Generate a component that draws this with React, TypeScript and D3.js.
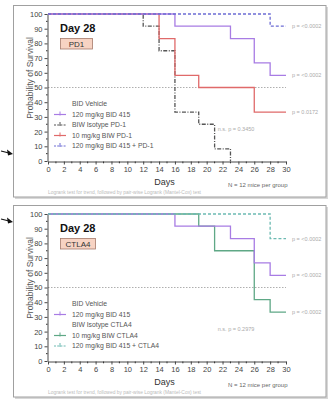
import { useRef, useEffect } from "react";
import * as d3 from "d3";

const FONT = "Liberation Sans, Arial, sans-serif";

const xTickValues = [0, 2, 4, 6, 8, 10, 12, 14, 16, 18, 20, 22, 24, 26, 28, 30];
const xMinorTicks = [1, 3, 5, 7, 9, 11, 13, 15, 17, 19, 21, 23, 25, 27, 29];
const yTickValues = [0, 10, 20, 30, 40, 50, 60, 70, 80, 90, 100];
const yMinorTicks = [5, 15, 25, 35, 45, 55, 65, 75, 85, 95];

// PD1 panel
const pd1Legend = ["BID Vehicle", "120 mg/kg BID 415", "BIW Isotype PD-1", "10 mg/kg BIW PD-1", "120 mg/kg BID 415 + PD-1"];
const bid415Days = [0, 16, 23, 26, 28, 30];
const bid415Surv = [100, 91.7, 83.3, 66.7, 58.3, 58.3];
const isoPd1Days = [0, 12, 14, 16, 19, 21, 23];
const isoPd1Surv = [100, 91.7, 75, 33.3, 25, 8.3, 0];
const pd1Days = [0, 14, 16, 19, 26, 30];
const pd1Surv = [100, 83.3, 58.3, 50, 33.3, 33.3];
const comboPd1Days = [0, 28, 30];
const comboPd1Surv = [100, 91.7, 91.7];
const pd1PValues = ["p = <0.0002", "p = <0.0002", "p = 0.0172"];
const pd1NotSig = "n.s. p = 0.3450";

// CTLA4 panel
const ctla4Legend = ["BID Vehicle", "120 mg/kg BID 415", "BIW Isotype CTLA4", "10 mg/kg BIW CTLA4", "120 mg/kg BID 415 + CTLA4"];
const bid415bDays = [0, 16, 23, 26, 28, 30];
const bid415bSurv = [100, 91.7, 83.3, 66.7, 58.3, 58.3];
const ctla4Days = [0, 19, 21, 26, 28, 30];
const ctla4Surv = [100, 91.7, 75, 41.7, 33.3, 33.3];
const comboCtla4Days = [0, 28, 30];
const comboCtla4Surv = [100, 83.3, 83.3];
const ctla4PValues = ["p = <0.0002", "p = <0.0002", "p = <0.0002"];
const ctla4NotSig = "n.s. p = 0.2979";

const footnote = "Logrank test for trend, followed by pair-wise Logrank (Mantel-Cox) test";
const nLabel = "N = 12 mice per group";

const C = {
  purple: "#a87ce4",
  red: "#e06a6a",
  iso: "#555555",
  blue: "#6c6cd4",
  green: "#5fa886",
  teal: "#6cbab2",
};

interface Series {
  days: number[];
  surv: number[];
  color: string;
  dash: string | null;
  legend: number;
  p?: string;
}

interface PanelCfg {
  tag: string;
  tagWidth: number;
  arrowY: number;
  legend: string[];
  series: Series[];
  notSig: string;
}

const panels: PanelCfg[] = [
  {
    tag: "PD1",
    tagWidth: 32,
    arrowY: 152,
    legend: pd1Legend,
    notSig: pd1NotSig,
    series: [
      { days: isoPd1Days, surv: isoPd1Surv, color: C.iso, dash: "4,1.5,1,1.5", legend: 2 },
      { days: pd1Days, surv: pd1Surv, color: C.red, dash: null, legend: 3, p: pd1PValues[2] },
      { days: bid415Days, surv: bid415Surv, color: C.purple, dash: null, legend: 1, p: pd1PValues[1] },
      { days: comboPd1Days, surv: comboPd1Surv, color: C.blue, dash: "3,2", legend: 4, p: pd1PValues[0] },
    ],
  },
  {
    tag: "CTLA4",
    tagWidth: 35,
    arrowY: 20,
    legend: ctla4Legend,
    notSig: ctla4NotSig,
    series: [
      { days: ctla4Days, surv: ctla4Surv, color: C.green, dash: null, legend: 3, p: ctla4PValues[2] },
      { days: bid415bDays, surv: bid415bSurv, color: C.purple, dash: null, legend: 1, p: ctla4PValues[1] },
      { days: comboCtla4Days, surv: comboCtla4Surv, color: C.teal, dash: "3,2", legend: 4, p: ctla4PValues[0] },
    ],
  },
];

function drawPanel(svg: d3.Selection<SVGSVGElement, unknown, null, undefined>, top: number, cfg: PanelCfg) {
  const g = svg.append("g").attr("transform", `translate(0,${top})`);

  // frame with a soft shadow
  g.append("rect").attr("x", 15).attr("y", 7).attr("width", 313).attr("height", 192).attr("fill", "#d8d8d8");
  g.append("rect")
    .attr("x", 13.5).attr("y", 5.5).attr("width", 312.5).attr("height", 191.5)
    .attr("fill", "#fff").attr("stroke", "#a0a0a0");

  // arrow outside the frame
  const ay = cfg.arrowY;
  g.append("line").attr("x1", 1).attr("x2", 9).attr("y1", ay - 1).attr("y2", ay + 1).attr("stroke", "#111").attr("stroke-width", 1.2);
  g.append("path").attr("d", `M13,${ay + 2} L7,${ay - 2.5} L8,${ay + 3.5} Z`).attr("fill", "#111");

  const x = d3.scaleLinear().domain([0, 30]).range([48, 286]);
  const y = d3.scaleLinear().domain([0, 100]).range([161, 14]);

  // 50% reference
  g.append("line")
    .attr("x1", x(0)).attr("x2", x(30)).attr("y1", y(50)).attr("y2", y(50))
    .attr("stroke", "#9a9a9a").attr("stroke-width", 0.8).attr("stroke-dasharray", "1.5,1.5");

  // axes
  const yAxis = g.append("g").attr("transform", "translate(47.5,0)")
    .call(d3.axisLeft(y).tickValues(yTickValues).tickSize(3).tickSizeOuter(0).tickPadding(2));
  yAxis.append("g").selectAll("line").data(yMinorTicks).enter().append("line")
    .attr("x1", -1.5).attr("x2", 0).attr("y1", (d) => y(d)).attr("y2", (d) => y(d)).attr("stroke", "#333");

  const xAxis = g.append("g").attr("transform", "translate(0,161.5)")
    .call(d3.axisBottom(x).tickValues(xTickValues).tickSize(3).tickSizeOuter(0).tickPadding(2));
  xAxis.append("g").selectAll("line").data(xMinorTicks).enter().append("line")
    .attr("x1", (d) => x(d)).attr("x2", (d) => x(d)).attr("y1", 0).attr("y2", 1.8).attr("stroke", "#333");

  g.selectAll(".domain, .tick line").attr("stroke", "#333").attr("stroke-width", 0.9);
  g.selectAll(".tick text").attr("fill", "#444").attr("font-size", 7.5).attr("font-family", FONT);

  // axis titles
  g.append("text")
    .attr("transform", "translate(33,78) rotate(-90)")
    .attr("text-anchor", "middle").attr("font-size", 8.5).attr("font-family", FONT).attr("fill", "#555")
    .text("Probability of Survival");
  g.append("text")
    .attr("x", x(14.7)).attr("y", 185).attr("text-anchor", "middle")
    .attr("font-size", 9).attr("font-family", FONT).attr("fill", "#333")
    .text("Days");

  // curves
  const stepLine = d3.line<[number, number]>()
    .x((d) => x(d[0]))
    .y((d) => y(d[1]))
    .curve(d3.curveStepAfter);
  cfg.series.forEach((s) => {
    const pts = s.days.map((d, i) => [d, s.surv[i]] as [number, number]);
    g.append("path").attr("d", stepLine(pts)).attr("fill", "none")
      .attr("stroke", s.color).attr("stroke-width", 1.3)
      .attr("stroke-dasharray", s.dash ?? null);
    if (s.p) {
      g.append("text")
        .attr("x", x(30) + 6).attr("y", y(s.surv[s.surv.length - 1]) + 2)
        .attr("font-size", 5.5).attr("font-family", FONT).attr("fill", "#aaa")
        .text(s.p);
    }
  });

  g.append("text")
    .attr("x", x(21.4)).attr("y", y(22) + 2)
    .attr("font-size", 5.5).attr("font-family", FONT).attr("fill", "#aaa")
    .text(cfg.notSig);

  // title and tag
  g.append("text").attr("x", 60).attr("y", 32)
    .attr("font-size", 11).attr("font-weight", "bold").attr("font-family", FONT).attr("fill", "#111")
    .text("Day 28");
  g.append("rect").attr("x", 60.5).attr("y", 38.5).attr("width", cfg.tagWidth).attr("height", 10.5)
    .attr("fill", "#f7d3c3").attr("stroke", "#a57a6c").attr("stroke-width", 0.8);
  g.append("text").attr("x", 60.5 + cfg.tagWidth / 2).attr("y", 46.8).attr("text-anchor", "middle")
    .attr("font-size", 8).attr("font-family", FONT).attr("fill", "#333")
    .text(cfg.tag);

  // legend
  const legendY = d3.scaleLinear().domain([0, 4]).range([104, 146]);
  cfg.legend.forEach((label, i) => {
    const ly = legendY(i);
    const s = cfg.series.find((d) => d.legend === i);
    if (s) {
      g.append("line").attr("x1", 54).attr("x2", 66).attr("y1", ly).attr("y2", ly)
        .attr("stroke", s.color).attr("stroke-width", 1.2).attr("stroke-dasharray", s.dash ? "2,1.2" : null);
      g.append("line").attr("x1", 60).attr("x2", 60).attr("y1", ly - 3).attr("y2", ly + 1)
        .attr("stroke", s.color).attr("stroke-width", 1);
    }
    g.append("text").attr("x", 72).attr("y", ly + 2.3)
      .attr("font-size", 6.8).attr("font-family", FONT).attr("fill", "#555")
      .text(label);
  });

  g.append("text").attr("x", 228).attr("y", 187)
    .attr("font-size", 6).attr("font-family", FONT).attr("fill", "#666")
    .text(nLabel);
  g.append("text").attr("x", 48).attr("y", 193.5)
    .attr("font-size", 4.6).attr("font-family", FONT).attr("fill", "#bbb")
    .attr("textLength", 153).attr("lengthAdjust", "spacingAndGlyphs")
    .text(footnote);
}

export default function App() {
  const svgRef = useRef<SVGSVGElement>(null);

  useEffect(() => {
    if (!svgRef.current) return;
    const svg = d3.select(svgRef.current);
    svg.selectAll("*").remove();
    svg.append("rect").attr("width", 328).attr("height", 400).attr("fill", "#fff");
    panels.forEach((p, i) => drawPanel(svg, i * 200, p));
  }, []);

  return (
    <svg
      ref={svgRef}
      width={328}
      height={400}
      style={{ position: "absolute", left: 0, top: 0, display: "block" }}
    />
  );
}
